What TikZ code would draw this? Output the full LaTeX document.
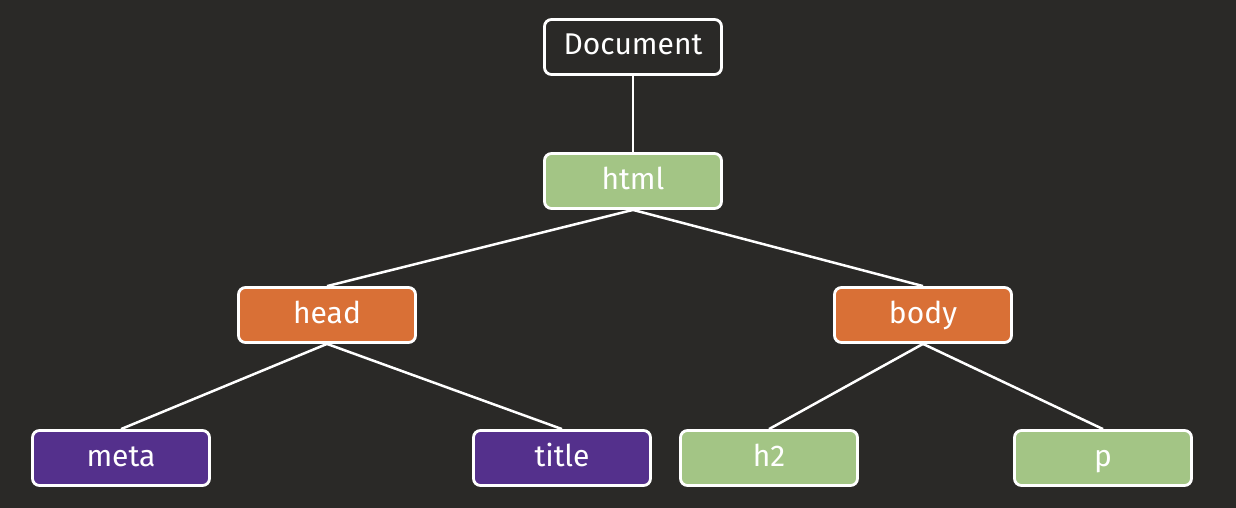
\documentclass[tikz,border=0pt]{standalone}
\usepackage{fontspec}
\setmainfont{Fira Sans}
\definecolor{board}{HTML}{2A2927}
\definecolor{leafgreen}{HTML}{A3C585}
\definecolor{chalkorange}{HTML}{D97036}
\definecolor{chalkpurple}{HTML}{54308C}
\begin{document}
\begin{tikzpicture}[x=1pt,y=-1pt,
  box/.style={draw=white,line width=2.8pt,rounded corners=7pt,minimum width=177pt,minimum height=55pt,inner sep=0pt,text=white,text height=21pt,text depth=5pt,font=\fontsize{30}{33}\selectfont},
  link/.style={draw=white,line width=2.5pt}]
\fill[board] (0,0) rectangle (1236,508);
\useasboundingbox (0,0) rectangle (1236,508);
\node[box,fill=board] (doc) at (633,47) {Document};
\node[box,fill=leafgreen] (html) at (633,181) {html};
\node[box,fill=chalkorange] (head) at (327,315) {head};
\node[box,fill=chalkorange] (body) at (923,315) {body};
\node[box,fill=chalkpurple] (meta) at (121,458) {meta};
\node[box,fill=chalkpurple] (title) at (562,458) {title};
\node[box,fill=leafgreen] (h2) at (769,458) {h2};
\node[box,fill=leafgreen] (p) at (1103,458) {p};
\draw[link] (doc.south) -- (html.north);
\draw[link] (html.south) -- (head.north);
\draw[link] (html.south) -- (body.north);
\draw[link] (head.south) -- (meta.north);
\draw[link] (head.south) -- (title.north);
\draw[link] (body.south) -- (h2.north);
\draw[link] (body.south) -- (p.north);
\end{tikzpicture}
\end{document}
